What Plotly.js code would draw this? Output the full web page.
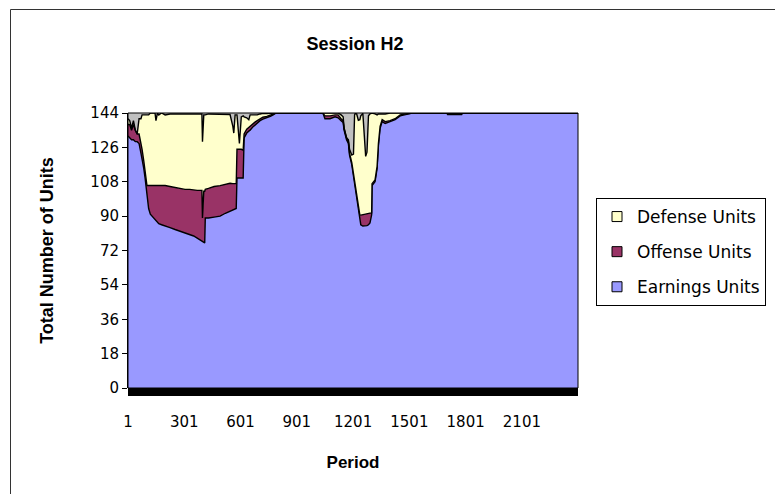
<!DOCTYPE html>
<html>
<head>
<meta charset="utf-8">
<script src="https://cdn.plot.ly/plotly-3.0.1.min.js"></script>
<style>html,body{margin:0;padding:0;background:#fff;}#chart{width:775px;height:494px;}</style>
</head>
<body>
<div id="chart"></div>
<script>
// Period (x) samples
const period = [1,10,20,30,40,50,60,70,76,85,92,102,111,120,129,145,150,158,165,180,199,225,252,280,305,330,351,370,385,395,398,401,405,410,413,430,460,492,520,545,560,565,572,578,582,595,605,615,620,634,645,652,665,678,690,705,720,741,760,775,790,900,1040,
 1051,1078,1105,1121,1137,1148,1153,1166,1176,1182,1194,1203,1209,1212,1220,1229,1237,1242,1253,1268,1275,1283,1291,1300,1302,1318,1329,1336,1345,1356,1372,1398,1425,1452,1478,1505,1516,1700,1705,1780,1785,2400];

const earningsUnits = [132,131,130,130,129,129,128,123,120,115,110,101,94,91,90,88,87.5,87,86,85.5,85,84,83,82,81,80.5,79.6,78.5,77.5,77,76.5,76.2,76,76,89,89,89.5,90,91.5,92.7,93.5,93.8,94,94,110,110,110,110,131,133.5,134.5,135,136.5,137.7,139,140,140.8,141.4,142.3,143,144,144,144,
 141,141,142,141.5,140,139,135,130,128,122,117,111.5,107,104.7,99.5,94.2,89,85.5,84.8,84.8,85,85.5,86.4,90.7,106,108,115,127,136,139.5,138.5,139.5,140.5,142.5,143,143.5,144,144,143.2,143.2,144,144];

const offenseUnits = [6,7,5,8,6,4,5,6,5,4,3,5,12,15,16,18,18.5,19,20,20.5,21,21.5,22,22.5,23,23.5,24,25,26,26.5,12.5,26.8,27,27,15,15.5,16,16,15,14.5,13.5,13.2,13,13,15,15,15,14.5,2,2,2,2,1.5,1.5,1,1,1,0.8,0.5,0.3,0,0,0,
 1.5,1.5,1,1.5,1,1,1,1,1,1,1,1,1,1,1,1,1.5,5,6,6.5,6.5,6,5.2,1,1,1,1,1,1,1,1,0.5,0.5,0.5,0.5,0.3,0,0,0.8,0.8,0,0];

const defenseUnits = [3,2,1,2,0,0,8,12,18,24,30,37,37,38,38,38,34,38,37,38,37,38,38.5,39,39.5,39.5,40,40,40,40,40,40,40,40,39,39,38,37.5,37,36,30,26.5,36,36,18,3,17,18,9,6,4,6,5,4,3,2.5,2,1.5,1,0.5,0,0,0,
 1.5,1.5,1,1,2,2,0,0,1,2,4,10,35,38,43,45,50,52,53,30,32,51,52,52,37,34.5,27,15.5,6.5,3,4,4,3,1,0.5,0.2,0,0,0,0,0,0];

const xTickVals = [1,301,601,901,1201,1501,1801,2101];
const xTickText = ['1','301','601','901','1201','1501','1801','2101'];
const yTickVals = [0,18,36,54,72,90,108,126,144];

const seriesNames = ['Earnings Units','Offense Units','Defense Units'];
const seriesColors = ['#9999FF','#993366','#FFFFCC'];
const seriesValues = [earningsUnits, offenseUnits, defenseUnits];

const FONT = 'DejaVu Sans, Liberation Sans, Arial, sans-serif';
const BOLD = 'Liberation Sans, Arial, sans-serif';

const traces = [];
for (let i = 0; i < 3; i++) {
  traces.push({
    type: 'scatter', mode: 'lines', x: period, y: seriesValues[i],
    stackgroup: 'units', name: seriesNames[i],
    line: {color: '#000000', width: 1.4},
    fillcolor: seriesColors[i], showlegend: false, hoverinfo: 'skip'
  });
}
// legend entries (square keys), top to bottom: Defense, Offense, Earnings
for (let i = 2; i >= 0; i--) {
  traces.push({
    type: 'scatter', mode: 'markers', x: [null], y: [null],
    name: seriesNames[i], legendgroup: 'g' + i,
    marker: {symbol: 'square', size: 10, color: seriesColors[i], line: {color: '#000000', width: 1}},
    showlegend: true, hoverinfo: 'skip'
  });
}

const L = 128, R = 578, T = 113, B = 388, W = 775, H = 494;
const px2x = p => (p - L) / (R - L);
const py2y = p => (B - p) / (B - T);

const layout = {
  width: W, height: H,
  margin: {l: L, r: W - R, t: T, b: H - B, pad: 0, autoexpand: false},
  paper_bgcolor: '#FFFFFF',
  plot_bgcolor: '#C0C0C0',
  showlegend: true,
  title: {text: 'Session H2', x: 355 / W, xanchor: 'center', y: 1 - 44 / H, yanchor: 'middle',
          font: {family: BOLD, size: 18, color: '#000000', weight: 'bold'}},
  xaxis: {
    range: [1, 2400], tickmode: 'array', tickvals: xTickVals, ticktext: xTickText,
    showgrid: false, zeroline: false, showline: false,
    ticks: 'outside', ticklen: 20, tickcolor: 'rgba(0,0,0,0)',
    tickfont: {family: FONT, size: 15, color: '#000000'},
    title: {text: 'Period', standoff: 26, font: {family: BOLD, size: 17, color: '#000000', weight: 'bold'}},
    fixedrange: true
  },
  yaxis: {
    range: [0, 144], tickmode: 'array', tickvals: yTickVals,
    showgrid: false, zeroline: false, showline: true, linecolor: '#000000', linewidth: 1,
    ticks: 'outside', ticklen: 5, tickcolor: '#000000',
    tickfont: {family: FONT, size: 15, color: '#000000'},
    title: {text: 'Total Number of Units', standoff: 32, font: {family: BOLD, size: 18, color: '#000000', weight: 'bold'}},
    fixedrange: true
  },
  legend: {
    x: px2x(596), y: py2y(198), xanchor: 'left', yanchor: 'top',
    bgcolor: '#FFFFFF', bordercolor: '#000000', borderwidth: 1,
    font: {family: FONT, size: 17, color: '#000000'},
    traceorder: 'grouped', tracegroupgap: 10, itemwidth: 30
  },
  shapes: [
    // thick black floor below the x axis
    {type: 'rect', xref: 'paper', yref: 'paper', x0: 0, x1: 1, y0: py2y(396), y1: 0,
     fillcolor: '#000000', line: {width: 0}, layer: 'above'},
    // plot area frame
    {type: 'rect', xref: 'paper', yref: 'paper', x0: 0, x1: 1, y0: 0, y1: 1,
     line: {color: '#000000', width: 1}, fillcolor: 'rgba(0,0,0,0)', layer: 'above'},
    // chart border
    {type: 'rect', xref: 'paper', yref: 'paper', x0: px2x(10.5), x1: px2x(800), y0: py2y(9.5), y1: py2y(520),
     line: {color: '#333333', width: 1}, fillcolor: 'rgba(0,0,0,0)', layer: 'below'}
  ]
};

Plotly.newPlot('chart', traces, layout, {displayModeBar: false, staticPlot: true});
</script>
</body>
</html>
